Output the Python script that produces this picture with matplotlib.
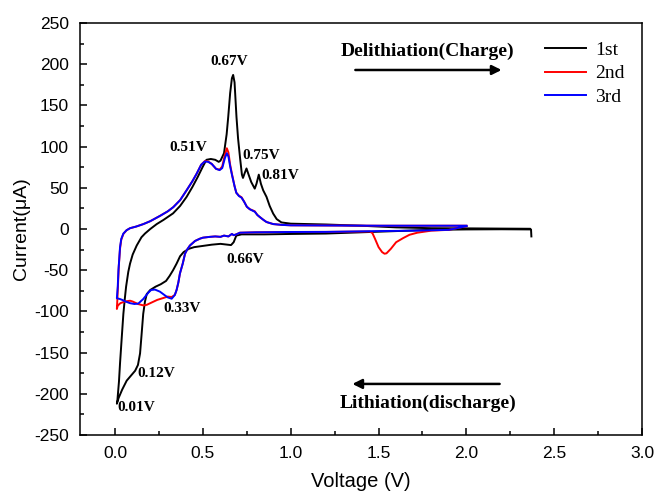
import matplotlib
matplotlib.use("Agg")
import matplotlib.pyplot as plt
from matplotlib.ticker import MultipleLocator

plt.rcParams["axes.unicode_minus"] = False

# cycle 1 (black): cathodic scan from 2.37 V down to 0.01 V, then anodic scan back up
v_1st = [2.37, 2.368, 2.2, 2.0, 1.8, 1.6, 1.4, 1.2, 1.0, 0.85, 0.72, 0.69, 0.675,
         0.66, 0.64, 0.6, 0.55, 0.5, 0.45, 0.42, 0.39, 0.37, 0.35, 0.33, 0.31, 0.29,
         0.26, 0.23, 0.20, 0.18, 0.17, 0.16, 0.15, 0.142, 0.13, 0.114, 0.09, 0.066,
         0.04, 0.02, 0.01,
         0.013, 0.022, 0.028, 0.038, 0.047, 0.055, 0.0625, 0.075, 0.085, 0.1, 0.123,
         0.15, 0.17, 0.2, 0.237, 0.275, 0.33, 0.37, 0.407, 0.44, 0.47, 0.5, 0.52,
         0.545, 0.57, 0.59, 0.60, 0.62, 0.635, 0.644, 0.655, 0.665, 0.672, 0.68,
         0.691, 0.70, 0.712, 0.722, 0.728, 0.738, 0.748, 0.76, 0.775, 0.795, 0.805,
         0.818, 0.83, 0.843, 0.862, 0.88, 0.9, 0.92, 0.947, 1.0, 1.2, 1.4, 1.6, 1.8,
         2.0, 2.2, 2.36]
i_1st = [-9, -0.5, -0.3, -0.5, -1.0, -2.5, -4, -5.5, -6, -6.5, -6.5, -8, -16,
         -19.5, -19, -18, -19, -20.5, -22, -24, -28, -33, -42, -50, -57, -63,
         -67, -70, -74, -79, -88, -103, -130, -151, -165, -172, -178, -184,
         -195, -205, -212,
         -208, -185, -163, -131, -103, -85, -70, -52, -42, -31, -20,
         -10, -5.5, 0, 6, 11, 19, 28, 39, 51, 63, 76, 84,
         85, 84, 81.5, 83, 92, 115, 136, 165, 183, 187, 178,
         136, 110, 85, 66, 62, 68, 73.5, 66, 57, 49, 55,
         66, 55, 47, 39, 28, 18.7, 12, 8, 6.5, 5.5, 4, 2, 1,
         0.8, 0.5, 0.3]

# cycle 2 (red)
v_2nd = [2.0, 1.9, 1.8, 1.72, 1.676, 1.64, 1.6, 1.57, 1.545, 1.534, 1.52, 1.5, 1.48,
         1.465, 1.45, 1.2, 1.0, 0.8, 0.71, 0.69, 0.675, 0.665, 0.645, 0.62, 0.6,
         0.57, 0.54, 0.5, 0.483, 0.455, 0.426, 0.41, 0.398, 0.385, 0.369, 0.36, 0.35,
         0.34, 0.322, 0.3, 0.27, 0.24, 0.21, 0.18, 0.161, 0.13, 0.1, 0.085, 0.055,
         0.03, 0.015, 0.01,
         0.013, 0.017, 0.021, 0.028, 0.035, 0.047, 0.065, 0.085, 0.12, 0.161, 0.2,
         0.256, 0.3, 0.331, 0.37, 0.407, 0.44, 0.464, 0.49, 0.511, 0.53, 0.55, 0.575,
         0.595, 0.61, 0.625, 0.636, 0.645, 0.655, 0.665, 0.68, 0.69, 0.705, 0.72,
         0.735, 0.75, 0.767, 0.785, 0.795, 0.81, 0.824, 0.845, 0.862, 0.9, 0.95,
         1.0, 1.5, 2.0]
i_2nd = [3.5, -1, -2, -4.5, -7, -11, -16, -24, -29.5, -30, -28, -22, -12,
         -5, -3, -3.5, -3.6, -4, -4.5, -6.5, -7.5, -6, -9, -8, -9.5,
         -9, -9.5, -10.5, -11.7, -14.5, -20, -25, -30, -42, -54, -65, -74,
         -80, -82.5, -82, -84, -86, -89, -92, -92.7, -91, -88, -87, -88,
         -90, -93, -97,
         -85, -65, -45, -24, -13, -6, -1.5, 1, 3, 6, 9.5,
         16, 21.5, 26.5, 35, 47, 58, 67, 78, 82.5, 82, 79, 73,
         72, 76, 90, 98, 93, 78, 67, 52, 44, 40.5, 38.5,
         33, 27, 24, 22.5, 21.5, 17, 14.5, 11, 8.5, 6, 5,
         4.5, 4, 4]

# cycle 3 (blue)
v_3rd = [2.0, 1.9, 1.7, 1.5, 1.2, 1.0, 0.8, 0.71, 0.69, 0.675, 0.665, 0.645, 0.62,
         0.6, 0.57, 0.54, 0.5, 0.483, 0.455, 0.426, 0.41, 0.398, 0.385, 0.369, 0.36,
         0.35, 0.34, 0.322, 0.3, 0.284, 0.255, 0.227, 0.205, 0.19, 0.16, 0.132, 0.11,
         0.085, 0.06, 0.04, 0.028, 0.01,
         0.015, 0.019, 0.024, 0.028, 0.035, 0.047, 0.065, 0.085, 0.12, 0.161, 0.2,
         0.256, 0.3, 0.331, 0.37, 0.407, 0.44, 0.464, 0.49, 0.511, 0.53, 0.55, 0.575,
         0.595, 0.61, 0.625, 0.636, 0.645, 0.655, 0.665, 0.68, 0.69, 0.705, 0.72,
         0.735, 0.75, 0.767, 0.785, 0.795, 0.81, 0.824, 0.845, 0.862, 0.9, 0.95,
         1.0, 1.5, 2.0]
i_3rd = [3.5, -1, -2, -2.5, -3.5, -3.6, -4, -4.5, -6.5, -7.5, -6, -9, -8,
         -9.5, -9, -9.5, -10.5, -11.7, -14.5, -20, -25, -30, -42, -54, -65,
         -74, -80, -84.6, -83, -80.6, -76, -73.5, -74, -77, -85, -90.5, -91,
         -90, -88, -86, -85, -84,
         -70, -50, -35, -22, -12, -5.5, -1.5, 1, 3, 6, 9.5,
         16, 21.5, 26.5, 35, 47, 58, 67, 78, 82, 81.5, 79, 73,
         71.5, 74, 86, 92, 88, 76, 66, 52, 44, 40, 38,
         33, 27, 24, 22, 21, 17, 14.5, 11, 8.5, 6, 5,
         4.5, 4, 4]

peak_labels = ["0.67V", "0.51V", "0.75V", "0.81V", "0.66V", "0.33V", "0.12V", "0.01V"]
peak_label_x = [0.648, 0.415, 0.83, 0.943, 0.739, 0.379, 0.233, 0.123]
peak_label_y = [203, 99, 89.5, 65, -37, -96.5, -175.5, -216]

fig = plt.figure(figsize=(6.54, 4.94), dpi=100)
ax = fig.add_axes([0.1223, 0.1194, 0.8594, 0.834])

ax.plot(v_1st, i_1st, color="black", lw=1.4, label="1st")
ax.plot(v_2nd, i_2nd, color="red", lw=1.4, label="2nd")
ax.plot(v_3rd, i_3rd, color="blue", lw=1.4, label="3rd")

for txt, x, y in zip(peak_labels, peak_label_x, peak_label_y):
    ax.text(x, y, txt, ha="center", va="center", fontsize=11,
            fontweight="bold", family="Liberation Serif")

ax.text(1.78, 216, "Delithiation(Charge)", ha="center", va="center", fontsize=14,
        fontweight="bold", family="Liberation Serif")
ax.annotate("", xy=(2.216, 193), xytext=(1.352, 193),
            arrowprops=dict(arrowstyle="-|>", color="black", lw=1.8, mutation_scale=14))
ax.text(1.78, -211, "Lithiation(discharge)", ha="center", va="center", fontsize=14,
        fontweight="bold", family="Liberation Serif")
ax.annotate("", xy=(1.335, -188), xytext=(2.205, -188),
            arrowprops=dict(arrowstyle="-|>", color="black", lw=1.8, mutation_scale=14))

ax.set_xlim(-0.2, 3.0)
ax.set_ylim(-250, 250)
ax.xaxis.set_major_locator(MultipleLocator(0.5))
ax.xaxis.set_minor_locator(MultipleLocator(0.25))
ax.yaxis.set_major_locator(MultipleLocator(50))
ax.yaxis.set_minor_locator(MultipleLocator(25))
ax.tick_params(which="both", direction="in", top=False, right=False, width=1.1)
ax.tick_params(which="major", length=5, labelsize=12.5, pad=8)
ax.tick_params(which="minor", length=3)
for lab in ax.get_xticklabels() + ax.get_yticklabels():
    lab.set_family("Liberation Sans")
for sp in ax.spines.values():
    sp.set_linewidth(1.1)

ax.set_xlabel("Voltage (V)", fontsize=14.5, family="Liberation Sans", labelpad=8)
ax.set_ylabel("Current(\u03bcA)", fontsize=14, family="Liberation Sans", labelpad=3)

ax.legend(loc="upper right", bbox_to_anchor=(1.0, 0.998), frameon=False,
          prop={"family": "Liberation Serif", "size": 14}, handlelength=2.1,
          handletextpad=0.45, labelspacing=0.3)

fig.savefig("out.png", dpi=100)
